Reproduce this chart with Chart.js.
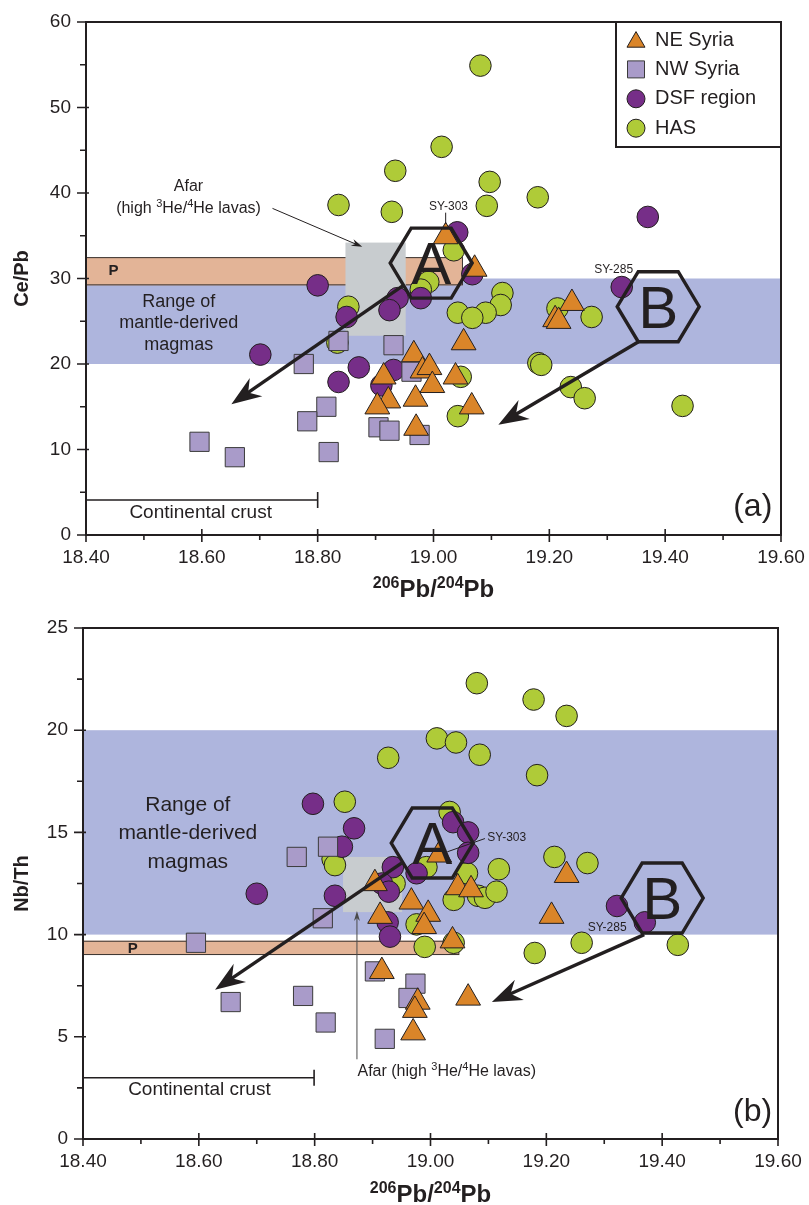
<!DOCTYPE html>
<html>
<head>
<meta charset="utf-8">
<script src="https://cdn.jsdelivr.net/npm/chart.js@4.4.1/dist/chart.umd.min.js"></script>
<style>
  html, body { margin: 0; padding: 0; background: #fff; }
  #wrap { position: relative; width: 809px; height: 1205px; }
  #panelA { position: absolute; left: 0; top: 0; }
  #panelB { position: absolute; left: 0; top: 600px; }
</style>
</head>
<body>
<div id="wrap">
  <canvas id="panelA" width="809" height="600"></canvas>
  <canvas id="panelB" width="809" height="605"></canvas>
</div>
<script>
// ---------- axes ----------
const xTickLabels = [18.40, 18.60, 18.80, 19.00, 19.20, 19.40, 19.60];
const yTickLabelsA = [0, 10, 20, 30, 40, 50, 60];
const yTickLabelsB = [0, 5, 10, 15, 20, 25];

// ---------- panel (a): Ce/Pb vs 206Pb/204Pb ----------
const neSyriaA = [[19.021,34.9],[19.071,31.1],[19.052,22.5],[18.966,21.1],[18.981,19.2],[18.993,19.6],[18.998,17.5],[18.969,15.9],[18.914,18.5],[18.922,15.7],[18.903,15.0],[18.970,12.5],[19.038,18.5],[19.066,15.0],[19.239,27.1],[19.210,25.2],[19.216,25.0]];
const nwSyriaA = [[18.596,10.9],[18.657,9.1],[18.776,20.0],[18.815,15.0],[18.782,13.3],[18.819,9.7],[18.836,22.7],[18.931,22.2],[18.905,12.6],[18.924,12.2],[18.976,11.7],[18.962,19.1]];
const dsfA = [[18.800,29.2],[19.041,35.4],[19.067,30.5],[19.370,37.2],[19.325,29.0],[18.938,27.7],[18.924,26.3],[18.978,27.7],[18.850,25.5],[18.871,19.6],[18.836,17.9],[18.931,19.3],[18.910,17.5],[18.701,21.1]];
const hasA = [[19.081,54.9],[19.014,45.4],[18.934,42.6],[19.097,41.3],[19.180,39.5],[18.836,38.6],[18.928,37.8],[19.092,38.5],[19.035,33.3],[18.991,29.6],[18.978,28.7],[19.119,28.3],[19.116,26.9],[19.090,26.0],[19.042,26.0],[19.067,25.4],[18.853,26.7],[18.834,22.5],[19.214,26.5],[19.273,25.5],[19.181,20.1],[19.186,19.9],[19.047,18.5],[19.237,17.3],[19.261,16.0],[19.430,15.1],[19.042,13.9]];

// reference fields for panel (a)
const mantleRangeA = [20, 30];
const pRangeA = [29.2, 32.5];
const pEndA = 19.05;
const afarXA = [18.848, 18.952];
const afarYA = [23.3, 34.2];
const crustA = [18.40, 18.80, 4.1];
const hexA = [[18.996, 31.8, 'A'], [19.388, 26.7, 'B']];
const trendsA = [[18.948, 29.2, 18.651, 15.3], [19.354, 22.6, 19.112, 12.9]];

// ---------- panel (b): Nb/Th vs 206Pb/204Pb ----------
const neSyriaB = [[19.015,13.9],[18.904,12.5],[19.047,12.3],[19.070,12.2],[18.967,11.6],[18.913,10.9],[18.996,11.0],[18.989,10.4],[19.038,9.7],[18.916,8.2],[18.978,6.7],[18.973,6.3],[18.970,5.2],[19.065,6.9],[19.209,10.9],[19.235,12.9]];
const nwSyriaB = [[18.595,9.6],[18.655,6.7],[18.780,7.0],[18.819,5.7],[18.921,4.9],[18.904,8.2],[18.974,7.6],[18.962,6.9],[18.814,10.8],[18.769,13.8],[18.823,14.3]];
const dsfB = [[18.797,16.4],[18.868,15.2],[18.847,14.3],[18.700,12.0],[18.835,11.9],[19.039,15.5],[19.065,15.0],[19.065,14.0],[18.935,13.3],[18.976,13.0],[18.916,12.5],[18.928,12.1],[18.926,10.6],[18.930,9.9],[19.322,11.4],[19.370,10.6]];
const hasB = [[19.080,22.3],[19.178,21.5],[19.235,20.7],[19.011,19.6],[19.044,19.4],[19.085,18.8],[18.927,18.65],[19.184,17.8],[18.852,16.5],[19.033,16.0],[18.831,13.7],[18.835,13.4],[18.993,13.3],[19.063,13.0],[19.118,13.2],[19.214,13.8],[19.271,13.5],[19.040,11.7],[19.082,11.9],[19.094,11.8],[19.114,12.1],[18.976,10.5],[18.990,9.4],[19.040,9.6],[19.180,9.1],[19.261,9.6],[19.427,9.5],[18.938,12.5]];

// reference fields for panel (b)
const mantleRangeB = [10, 20];
const pRangeB = [9.0, 9.7];
const pEndB = 19.049;
const afarXB = [18.849, 18.951];
const afarYB = [11.1, 13.8];
const crustB = [18.40, 18.799, 3.0];
const hexB = [[19.003, 14.48, 'A'], [19.400, 11.79, 'B']];
const trendsB = [[18.950, 13.5, 18.628, 7.3], [19.369, 10.0, 19.106, 6.7]];

// ---------- styling ----------
const FONT = '"Liberation Sans", Arial, Helvetica, sans-serif';
const INK = '#231f20';
const C_NE = '#DA8529', C_NW = '#A99BC9', C_DSF = '#762E88', C_HAS = '#AFCB38';
const C_MANTLE = '#AEB5DD', C_P = '#E3B497', C_AFAR = '#C8CCCF';

const fontStr = (size, bold) => (bold ? 'bold ' : '') + size + 'px ' + FONT;
const toPts = arr => arr.map(([x, y]) => ({ x, y }));
const near = (v, list) => list.some(m => Math.abs(m - v) < 1e-6);

function datasets(ne, nw, dsf, has) {
  return [
    { label: 'NE Syria', data: toPts(ne), pointStyle: 'triangle', pointRadius: 14.3, backgroundColor: C_NE, borderColor: INK, borderWidth: 1 },
    { label: 'NW Syria', data: toPts(nw), pointStyle: 'rect', pointRadius: 13.6, backgroundColor: C_NW, borderColor: '#3b3b3b', borderWidth: 1 },
    { label: 'DSF region', data: toPts(dsf), pointStyle: 'circle', pointRadius: 10.8, backgroundColor: C_DSF, borderColor: INK, borderWidth: 1 },
    { label: 'HAS', data: toPts(has), pointStyle: 'circle', pointRadius: 10.8, backgroundColor: C_HAS, borderColor: INK, borderWidth: 1 }
  ].map(d => Object.assign(d, { pointHoverRadius: d.pointRadius, showLine: false }));
}

function scales(yMax, yStep, yLabels, yWidth, xHeight) {
  const xValues = [];
  for (let k = 184; k <= 196; k++) xValues.push(k / 10);
  const yValues = [];
  for (let v = 0; v <= yMax + 1e-9; v += yStep) yValues.push(v);
  // the library's tick strokes only reserve room for the labels (kept invisible);
  // visible tick marks are drawn by the overlay so that minor ones can be shorter
  const grid = { display: true, drawOnChartArea: false, drawTicks: true, tickLength: 8, tickColor: 'rgba(0,0,0,0)' };
  const border = { display: true, color: INK, width: 2 };
  return {
    x: {
      type: 'linear', min: 18.4, max: 19.6, grid, border,
      afterBuildTicks: s => { s.ticks = xValues.map(value => ({ value })); },
      afterFit: s => { s.height = xHeight; },
      ticks: { autoSkip: false, maxRotation: 0, padding: 3, color: INK, font: { family: FONT, size: 19 },
        callback: v => near(v, xTickLabels) ? v.toFixed(2) : '' }
    },
    y: {
      type: 'linear', min: 0, max: yMax, grid, border,
      afterBuildTicks: s => { s.ticks = yValues.map(value => ({ value })); },
      afterFit: s => { s.width = yWidth; },
      ticks: { autoSkip: false, padding: 7, color: INK, font: { family: FONT, size: 19 },
        callback: v => near(v, yLabels) ? String(v) : '' }
    }
  };
}

// ---------- drawing helpers ----------
function band(ctx, xs, ys, x0, x1, y0, y1, fill, stroke) {
  const L = xs.getPixelForValue(x0), R = xs.getPixelForValue(x1);
  const T = ys.getPixelForValue(y1), B = ys.getPixelForValue(y0);
  ctx.fillStyle = fill;
  ctx.fillRect(L, T, R - L, B - T);
  if (stroke) {
    ctx.strokeStyle = stroke; ctx.lineWidth = 1;
    ctx.strokeRect(L, T + 0.5, R - L, B - T - 1);
  }
}

function text(ctx, str, x, y, size, bold, align, color) {
  ctx.font = fontStr(size, bold);
  ctx.fillStyle = color || INK;
  ctx.textAlign = align || 'center';
  ctx.textBaseline = 'middle';
  ctx.fillText(str, x, y);
}

// text with superscript runs; y is the baseline
function rich(ctx, parts, x, y, size, bold, align, color) {
  const supSize = Math.round(size * 0.68);
  let w = 0;
  for (const [t, sup] of parts) { ctx.font = fontStr(sup ? supSize : size, bold); w += ctx.measureText(t).width; }
  let cx = align === 'center' ? x - w / 2 : (align === 'right' ? x - w : x);
  ctx.fillStyle = color || INK;
  ctx.textAlign = 'left';
  ctx.textBaseline = 'alphabetic';
  for (const [t, sup] of parts) {
    ctx.font = fontStr(sup ? supSize : size, bold);
    ctx.fillText(t, cx, sup ? y - size * 0.38 : y);
    cx += ctx.measureText(t).width;
  }
}

function hexagon(ctx, cx, cy, letter) {
  const w = 82, h = 70, q = 21;
  ctx.beginPath();
  ctx.moveTo(cx - w / 2, cy);
  ctx.lineTo(cx - w / 2 + q, cy - h / 2);
  ctx.lineTo(cx + w / 2 - q, cy - h / 2);
  ctx.lineTo(cx + w / 2, cy);
  ctx.lineTo(cx + w / 2 - q, cy + h / 2);
  ctx.lineTo(cx - w / 2 + q, cy + h / 2);
  ctx.closePath();
  ctx.strokeStyle = INK; ctx.lineWidth = 3.4; ctx.lineJoin = 'miter';
  ctx.stroke();
  ctx.font = fontStr(60, false);
  ctx.fillStyle = INK; ctx.textAlign = 'center'; ctx.textBaseline = 'alphabetic';
  ctx.fillText(letter, cx, cy + 21);
}

function arrow(ctx, x1, y1, x2, y2, lw, headLen, headW, color) {
  const ang = Math.atan2(y2 - y1, x2 - x1);
  ctx.strokeStyle = color; ctx.fillStyle = color; ctx.lineWidth = lw; ctx.lineCap = 'butt';
  ctx.beginPath();
  ctx.moveTo(x1, y1);
  ctx.lineTo(x2 - Math.cos(ang) * headLen * 0.6, y2 - Math.sin(ang) * headLen * 0.6);
  ctx.stroke();
  ctx.save();
  ctx.translate(x2, y2); ctx.rotate(ang);
  ctx.beginPath();
  ctx.moveTo(0, 0);
  ctx.lineTo(-headLen, -headW / 2);
  ctx.lineTo(-headLen * 0.68, 0);
  ctx.lineTo(-headLen, headW / 2);
  ctx.closePath();
  ctx.fill();
  ctx.restore();
}

function crustBar(ctx, xs, ys, c) {
  const L = xs.getPixelForValue(c[0]), R = xs.getPixelForValue(c[1]), Y = ys.getPixelForValue(c[2]);
  ctx.strokeStyle = INK; ctx.lineWidth = 1.6;
  ctx.beginPath();
  ctx.moveTo(L, Y); ctx.lineTo(R, Y);
  ctx.moveTo(R, Y - 8); ctx.lineTo(R, Y + 8);
  ctx.stroke();
}

function frame(ctx, a) {
  ctx.strokeStyle = INK; ctx.lineWidth = 2;
  ctx.strokeRect(a.left, a.top, a.right - a.left, a.bottom - a.top);
}

// major ticks cross the axis line, minor ticks sit outside it
function tickMarks(chart, yLabels) {
  const { ctx, chartArea: a, scales: { x, y } } = chart;
  ctx.strokeStyle = INK; ctx.lineWidth = 1.6;
  ctx.beginPath();
  for (const t of x.ticks) {
    const px = x.getPixelForValue(t.value);
    const major = near(t.value, xTickLabels);
    ctx.moveTo(px, a.bottom - (major ? 6 : 0));
    ctx.lineTo(px, a.bottom + (major ? 7 : 5));
  }
  for (const t of y.ticks) {
    const py = y.getPixelForValue(t.value);
    const major = near(t.value, yLabels);
    ctx.moveTo(a.left + (major ? 3 : 0), py);
    ctx.lineTo(a.left - (major ? 9 : 6), py);
  }
  ctx.stroke();
}

function marker(ctx, style, x, y, fill, stroke) {
  ctx.fillStyle = fill; ctx.strokeStyle = stroke; ctx.lineWidth = 1;
  ctx.beginPath();
  if (style === 'triangle') {
    const r = 10.4;
    for (let i = 0; i < 3; i++) {
      const t = i * 2 * Math.PI / 3;
      const px = x + Math.sin(t) * r, py = y + 2 - Math.cos(t) * r;
      i ? ctx.lineTo(px, py) : ctx.moveTo(px, py);
    }
    ctx.closePath();
  } else if (style === 'rect') {
    ctx.rect(x - 8.5, y - 8.5, 17, 17);
  } else {
    ctx.arc(x, y, 9, 0, Math.PI * 2);
  }
  ctx.fill(); ctx.stroke();
}

function drawBackground(chart, mantle, pRange, pEnd, afarX, afarY) {
  const { ctx, chartArea: a, scales: { x, y } } = chart;
  ctx.save();
  ctx.beginPath(); ctx.rect(a.left, a.top, a.right - a.left, a.bottom - a.top); ctx.clip();
  band(ctx, x, y, 18.4, 19.6, mantle[0], mantle[1], C_MANTLE, null);
  band(ctx, x, y, 18.4, pEnd, pRange[0], pRange[1], C_P, '#3a3330');
  band(ctx, x, y, afarX[0], afarX[1], afarY[0], afarY[1], C_AFAR, null);
  ctx.restore();
}

function drawTrends(chart, hexes, trends) {
  const { ctx, scales: { x, y } } = chart;
  for (const [hx, hy, letter] of hexes) hexagon(ctx, x.getPixelForValue(hx), y.getPixelForValue(hy), letter);
  for (const [x1, y1, x2, y2] of trends)
    arrow(ctx, x.getPixelForValue(x1), y.getPixelForValue(y1), x.getPixelForValue(x2), y.getPixelForValue(y2), 3.4, 30, 22, INK);
}

function axisTitles(chart, yTitle, xBaseline) {
  const { ctx, chartArea: a } = chart;
  rich(ctx, [['206', true], ['Pb/', false], ['204', true], ['Pb', false]], (a.left + a.right) / 2, xBaseline, 24, true, 'center');
  ctx.save();
  ctx.translate(22, (a.top + a.bottom) / 2);
  ctx.rotate(-Math.PI / 2);
  text(ctx, yTitle, 0, 0, 20, true, 'center');
  ctx.restore();
}

// ---------- panel (a) overlay ----------
const overlayA = {
  id: 'overlayA',
  beforeDatasetsDraw(chart) { drawBackground(chart, mantleRangeA, pRangeA, pEndA, afarXA, afarYA); },
  afterDatasetsDraw(chart) {
    const { ctx, chartArea: a, scales: { x, y } } = chart;
    const X = v => x.getPixelForValue(v), Y = v => y.getPixelForValue(v);
    ctx.save();
    drawTrends(chart, hexA, trendsA);

    // continental crust
    crustBar(ctx, x, y, crustA);
    text(ctx, 'Continental crust', X(18.598), Y(2.55), 19, false);

    // band labels
    text(ctx, 'P', X(18.4475), Y(30.85), 15, true);
    text(ctx, 'Range of', X(18.56), Y(27.25), 18, false);
    text(ctx, 'mantle-derived', X(18.56), Y(24.8), 18, false);
    text(ctx, 'magmas', X(18.56), Y(22.25), 18, false);

    // Afar note
    text(ctx, 'Afar', X(18.577), Y(40.8), 16, false);
    rich(ctx, [['(high ', false], ['3', true], ['He/', false], ['4', true], ['He lavas)', false]], X(18.577), Y(38.4) + 6, 16, false, 'center');
    arrow(ctx, X(18.722), Y(38.2), X(18.877), Y(33.7), 1, 11, 7, INK);

    // sample labels
    text(ctx, 'SY-303', X(19.026), Y(38.45), 12, false);
    ctx.strokeStyle = INK; ctx.lineWidth = 1;
    ctx.beginPath(); ctx.moveTo(X(19.021), Y(37.7)); ctx.lineTo(X(19.021), Y(36.4)); ctx.stroke();
    text(ctx, 'SY-285', X(19.311), Y(31.0), 12, false);

    text(ctx, '(a)', X(19.585), Y(3.3), 32, false, 'right');
    frame(ctx, a);
    tickMarks(chart, yTickLabelsA);

    // legend
    const L = a.right - 165, T = a.top, W = 165, H = 125;
    ctx.fillStyle = '#fff'; ctx.fillRect(L, T, W, H);
    ctx.strokeStyle = INK; ctx.lineWidth = 2; ctx.strokeRect(L, T, W, H);
    chart.data.datasets.forEach((d, i) => {
      const cy = T + 18 + i * 29.4;
      marker(ctx, d.pointStyle, L + 20, cy, d.backgroundColor, d.borderColor);
      text(ctx, d.label, L + 39, cy, 20, false, 'left');
    });

    axisTitles(chart, 'Ce/Pb', 597);
    ctx.restore();
  }
};

// ---------- panel (b) overlay ----------
const overlayB = {
  id: 'overlayB',
  beforeDatasetsDraw(chart) { drawBackground(chart, mantleRangeB, pRangeB, pEndB, afarXB, afarYB); },
  afterDatasetsDraw(chart) {
    const { ctx, chartArea: a, scales: { x, y } } = chart;
    const X = v => x.getPixelForValue(v), Y = v => y.getPixelForValue(v);
    ctx.save();
    drawTrends(chart, hexB, trendsB);

    crustBar(ctx, x, y, crustB);
    text(ctx, 'Continental crust', X(18.601), Y(2.4), 19, false);

    text(ctx, 'P', X(18.486), Y(9.32), 15, true);
    text(ctx, 'Range of', X(18.581), Y(16.34), 21, false);
    text(ctx, 'mantle-derived', X(18.581), Y(14.97), 21, false);
    text(ctx, 'magmas', X(18.581), Y(13.55), 21, false);

    // Afar note with upward pointer
    arrow(ctx, X(18.873), Y(3.9), X(18.873), Y(11.15), 1, 10, 6, '#4a4a4a');
    rich(ctx, [['Afar (high ', false], ['3', true], ['He/', false], ['4', true], ['He lavas)', false]], X(19.028), Y(3.38) + 6, 16, false, 'center');

    text(ctx, 'SY-303', X(19.098), Y(14.73), 12, false, 'left');
    ctx.strokeStyle = INK; ctx.lineWidth = 1;
    ctx.beginPath(); ctx.moveTo(X(19.094), Y(14.7)); ctx.lineTo(X(19.029), Y(14.05)); ctx.stroke();
    text(ctx, 'SY-285', X(19.305), Y(10.32), 12, false);

    text(ctx, '(b)', X(19.59), Y(1.3), 32, false, 'right');
    frame(ctx, a);
    tickMarks(chart, yTickLabelsB);
    axisTitles(chart, 'Nb/Th', 602);
    ctx.restore();
  }
};

function build(id, data, scaleOpts, padding, plugin) {
  return new Chart(document.getElementById(id), {
    type: 'scatter',
    data: { datasets: data },
    options: {
      responsive: false, animation: false, devicePixelRatio: 1, events: [],
      layout: { padding },
      plugins: { legend: { display: false }, tooltip: { enabled: false } },
      scales: scaleOpts
    },
    plugins: [plugin]
  });
}

build('panelA', datasets(neSyriaA, nwSyriaA, dsfA, hasA), scales(60, 5, yTickLabelsA, 86, 65), { left: 0, top: 22, right: 28, bottom: 0 }, overlayA);
build('panelB', datasets(neSyriaB, nwSyriaB, dsfB, hasB), scales(25, 2.5, yTickLabelsB, 83, 66), { left: 0, top: 28, right: 31, bottom: 0 }, overlayB);
</script>
</body>
</html>
